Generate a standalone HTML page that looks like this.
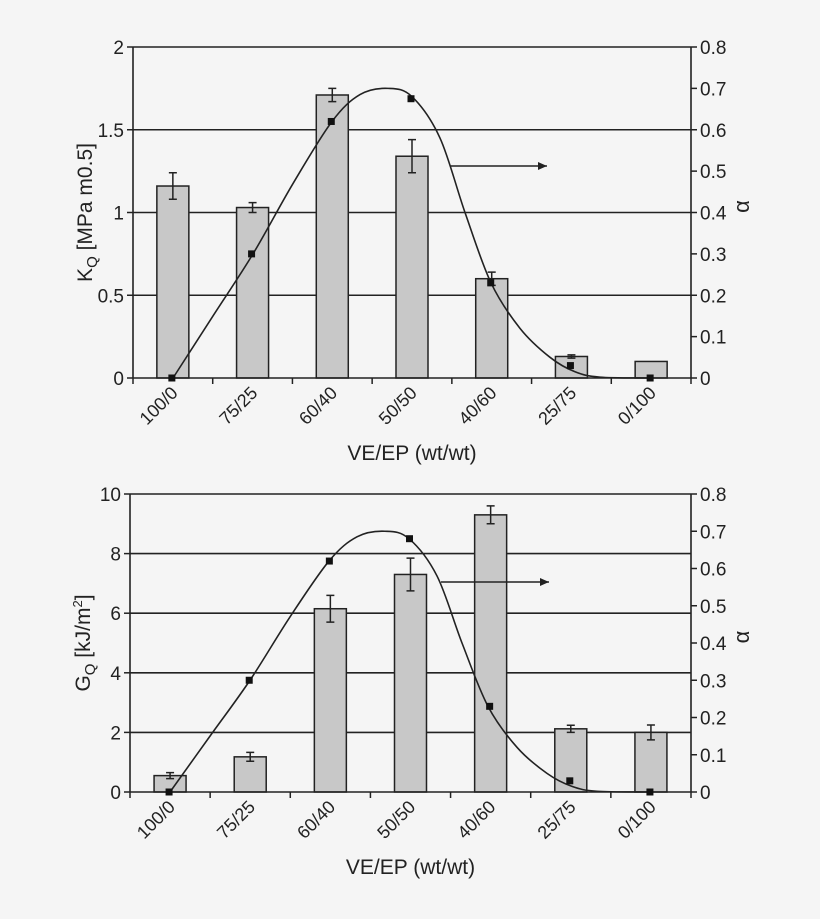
<!DOCTYPE html><html><head><style>body{margin:0;background:#f5f5f5}svg{display:block;font-family:"Liberation Sans",sans-serif}</style></head><body>
<svg id="s" width="820" height="919" xmlns="http://www.w3.org/2000/svg">
<rect width="820" height="919" fill="#f5f5f5"/>
<g id="g"></g>
</svg>
<script>
const NS="http://www.w3.org/2000/svg",G=document.getElementById('g');
function el(t,a,txt){const e=document.createElementNS(NS,t);for(const k in a)e.setAttribute(k,a[k]);if(txt!=null)e.textContent=txt;G.appendChild(e);return e;}
function smooth(p){let d=`M${p[0][0]},${p[0][1]}`;for(let i=0;i<p.length-1;i++){const p0=p[i-1]||p[i],p1=p[i],p2=p[i+1],p3=p[i+2]||p2;
d+=` C${p1[0]+(p2[0]-p0[0])/6},${p1[1]+(p2[1]-p0[1])/6} ${p2[0]-(p3[0]-p1[0])/6},${p2[1]-(p3[1]-p1[1])/6} ${p2[0]},${p2[1]}`;}return d;}
const cats=["100/0","75/25","60/40","50/50","40/60","25/75","0/100"];
function chart(o){
 const {x0,x1,yT,yB,max,step,lf,bars,errs,alpha,curve,ytitle,arrowY,arrowX}=o;
 const sc=(yB-yT)/max, asc=(yB-yT)/0.8, w=(x1-x0)/7;
 for(let v=step;v<=max+1e-9;v+=step){const y=yB-v*sc;el('line',{x1:x0,x2:x1,y1:y,y2:y,stroke:'#222','stroke-width':1.6});}
 for(let v=0;v<=max+1e-9;v+=step){const y=yB-v*sc;el('line',{x1:x0-6,x2:x0,y1:y,y2:y,stroke:'#222','stroke-width':1.5});
  el('text',{x:x0-9,y:y+7,'text-anchor':'end','font-size':19,fill:'#222'},lf(v));}
 for(let i=0;i<=8;i++){const a=i/10,y=yB-a*asc;el('line',{x1:x1,x2:x1+6,y1:y,y2:y,stroke:'#222','stroke-width':1.5});
  el('text',{x:x1+9,y:y+7,'font-size':19,fill:'#222'},i==0?'0':a.toFixed(1));}
 bars.forEach((v,i)=>{const c=x0+w*(i+.5),y=yB-v*sc;
  el('rect',{x:c-16,y:y,width:32,height:yB-y,fill:'#c8c8c8',stroke:'#222','stroke-width':1.5});
  const e=errs[i]*sc;if(e>1){el('path',{d:`M${c},${y-e}V${y+e}M${c-4},${y-e}H${c+4}M${c-4},${y+e}H${c+4}`,stroke:'#222','stroke-width':1.5,fill:'none'});}
 });
 el('line',{x1:x0,x2:x0,y1:yT,y2:yB,stroke:'#222','stroke-width':1.6});
 el('line',{x1:x1,x2:x1,y1:yT,y2:yB,stroke:'#222','stroke-width':1.6});
 el('line',{x1:x0,x2:x1,y1:yB,y2:yB,stroke:'#222','stroke-width':1.6});
 for(let i=0;i<=7;i++){const x=x0+w*i;el('line',{x1:x,x2:x,y1:yB,y2:yB+6,stroke:'#222','stroke-width':1.5});}
 const pts=curve.map(([x,a])=>[x,yB-a*asc]);
 el('path',{d:smooth(pts),fill:'none',stroke:'#222','stroke-width':1.6});
 alpha.forEach((a,i)=>{const c=x0+w*(i+.5)-1,y=yB-a*asc;el('rect',{x:c-3.5,y:y-3.5,width:7,height:7,fill:'#111'});});
 cats.forEach((t,i)=>{const c=x0+w*(i+.5)+6,y=yB+16;el('text',{x:c,y:y,'text-anchor':'end','font-size':18,fill:'#222',transform:`rotate(-45 ${c} ${y})`},t);});
 el('text',{x:(x0+x1)/2,y:yB+82,'text-anchor':'middle','font-size':21,fill:'#222'},'VE/EP (wt/wt)');
 el('text',{x:x1+58,y:(yT+yB)/2+6,'text-anchor':'middle','font-size':22,fill:'#222',transform:`rotate(-90 ${x1+52} ${(yT+yB)/2})`},'α');
 const t=el('text',{x:0,y:0,'text-anchor':'middle','font-size':21,fill:'#222',transform:`translate(${o.tx} ${(yT+yB)/2}) rotate(-90)`});
 t.innerHTML=ytitle;
 el('path',{d:`M${arrowX[0]},${arrowY}H${arrowX[1]}`,stroke:'#222','stroke-width':1.5});
 el('path',{d:`M${arrowX[1]},${arrowY} l-9,-4 v8z`,fill:'#222'});
}
function cv(s){return [[0,0],[40,0.15],[80,0.30],[120,0.47],[159,0.62],[187,0.685],[215,0.70],[239,0.68],[267,0.58],[292,0.40],[318,0.23],[347,0.12],[377,0.05],[402,0.015],[427,0.002],[477,0]].map(([x,a])=>[x+s,a]);}
chart({x0:133,x1:691,yT:47,yB:378,max:2,step:0.5,lf:v=>String(v),
 bars:[1.16,1.03,1.71,1.34,0.60,0.13,0.10],errs:[0.08,0.03,0.04,0.1,0.04,0.01,0],
 alpha:[0,0.30,0.62,0.675,0.23,0.03,0],
 curve:cv(173),
 ytitle:'K<tspan font-size="15" dy="5">Q</tspan><tspan dy="-5"> [MPa m0.5]</tspan>',tx:92,arrowY:166,arrowX:[450,547]});
chart({x0:130,x1:691,yT:494,yB:792,max:10,step:2,lf:v=>String(v),
 bars:[0.55,1.18,6.15,7.3,9.3,2.12,2.0],errs:[0.1,0.15,0.45,0.55,0.3,0.12,0.25],
 alpha:[0,0.30,0.62,0.68,0.23,0.03,0],
 curve:cv(170),
 ytitle:'G<tspan font-size="15" dy="5">Q</tspan><tspan dy="-5"> [kJ/m</tspan><tspan font-size="13" dy="-8">2</tspan><tspan dy="8">]</tspan>',tx:90,arrowY:582,arrowX:[441,549]});
</script>
</body></html>
